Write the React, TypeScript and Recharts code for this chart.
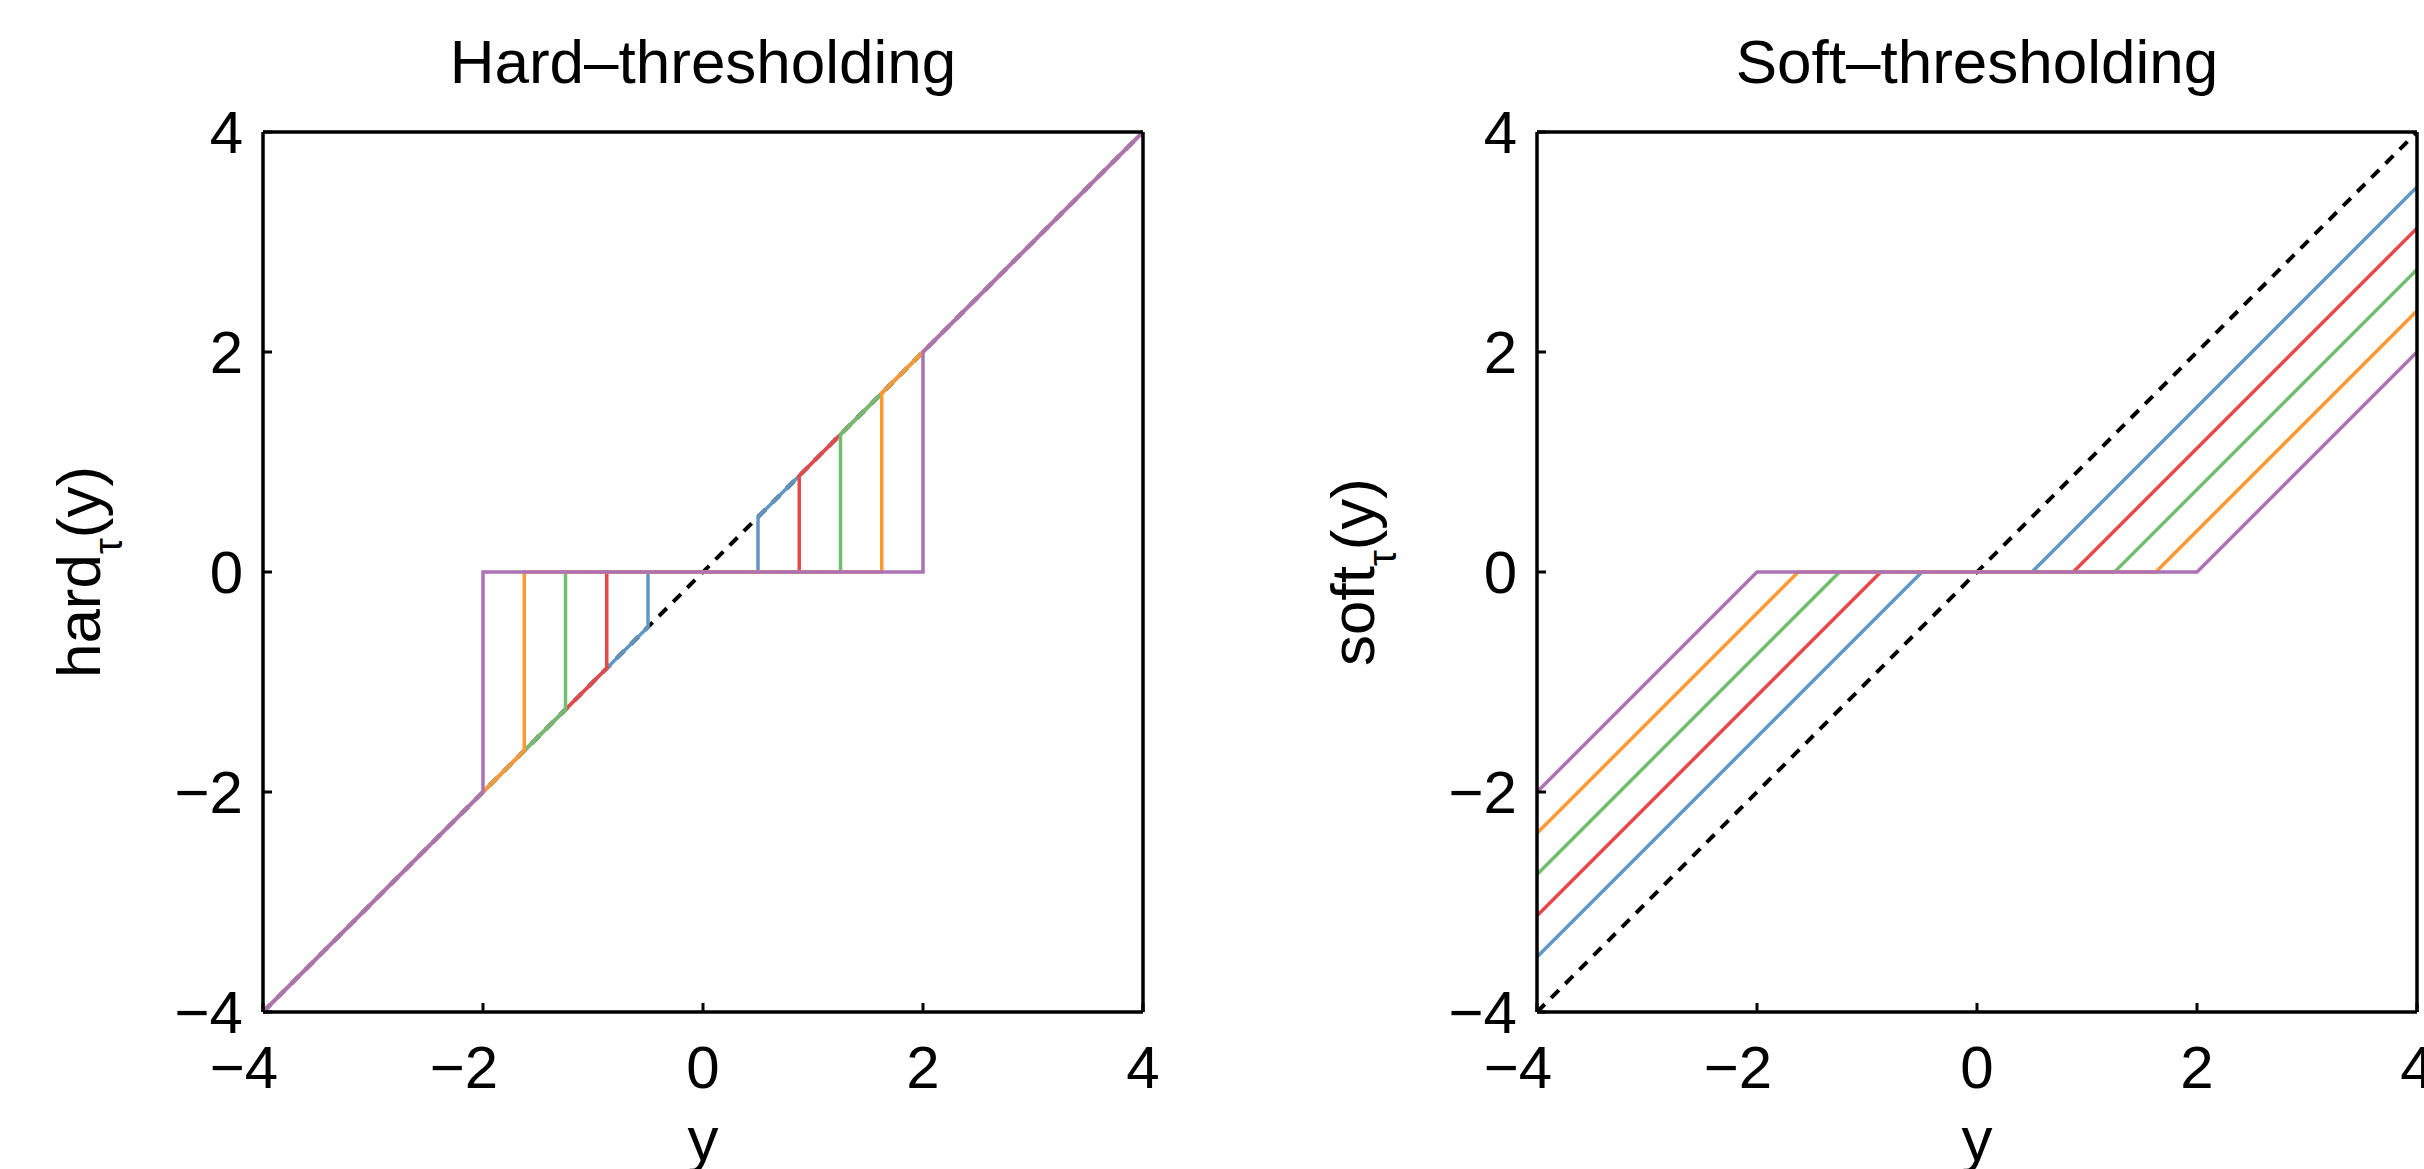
import { LineChart, Line, XAxis, YAxis, Label } from 'recharts'

type Pt = [number, number]

// shared axis setup (both panels run -4..4 on both axes)
const AXIS_DOMAIN: [number, number] = [-4, 4]
const AXIS_TICKS = [-4, -2, 0, 2, 4]

// thresholds, in plot order: blue, red, green, orange, purple
const SERIES_COLORS = ['#5f98c6', '#e94849', '#71bf6e', '#ff9933', '#ad71b5']

const IDENTITY: Pt[] = [[-4, -4], [4, 4]]

const HARD_BLUE: Pt[] = [[-4, -4], [-0.5, -0.5], [-0.5, 0], [0.5, 0], [0.5, 0.5], [4, 4]]
const HARD_RED: Pt[] = [[-4, -4], [-0.875, -0.875], [-0.875, 0], [0.875, 0], [0.875, 0.875], [4, 4]]
const HARD_GREEN: Pt[] = [[-4, -4], [-1.25, -1.25], [-1.25, 0], [1.25, 0], [1.25, 1.25], [4, 4]]
const HARD_ORANGE: Pt[] = [[-4, -4], [-1.625, -1.625], [-1.625, 0], [1.625, 0], [1.625, 1.625], [4, 4]]
const HARD_PURPLE: Pt[] = [[-4, -4], [-2, -2], [-2, 0], [2, 0], [2, 2], [4, 4]]

const SOFT_BLUE: Pt[] = [[-4, -3.5], [-0.5, 0], [0.5, 0], [4, 3.5]]
const SOFT_RED: Pt[] = [[-4, -3.125], [-0.875, 0], [0.875, 0], [4, 3.125]]
const SOFT_GREEN: Pt[] = [[-4, -2.75], [-1.25, 0], [1.25, 0], [4, 2.75]]
const SOFT_ORANGE: Pt[] = [[-4, -2.375], [-1.625, 0], [1.625, 0], [4, 2.375]]
const SOFT_PURPLE: Pt[] = [[-4, -2], [-2, 0], [2, 0], [4, 2]]

const FONT = '"Liberation Sans", Helvetica, Arial, sans-serif'
const CHART_W = 1212
const CHART_H = 1169

const toPoints = (pts: Pt[]) => pts.map(([x, y]) => ({ x, y }))

const fmt = (v: number) => (v < 0 ? `\u2212${Math.abs(v)}` : `${v}`)

function XTick(props: any) {
  const { x, y, payload } = props
  const v = payload.value as number
  // matlab centres the digit, the minus sign hangs off to the left
  return (
    <text x={x + (v < 0 ? -19 : 0)} y={y} dy='0.71em' textAnchor='middle' fontSize={60} fontFamily={FONT} fill='#000'>
      {fmt(v)}
    </text>
  )
}

function YTick(props: any) {
  const { x, y, payload } = props
  return (
    <text x={x} y={y} dy='0.355em' textAnchor='end' fontSize={60} fontFamily={FONT} fill='#000'>
      {fmt(payload.value)}
    </text>
  )
}

interface PanelProps {
  left: number
  marginLeft: number
  marginRight: number
  rightWidth: number
  title: string
  fnName: string
  series: Pt[][]
}

function Panel({ left, marginLeft, marginRight, rightWidth, title, fnName, series }: PanelProps) {
  const axisLine = { stroke: '#000', strokeWidth: 3.5 }
  const tickLine = { stroke: '#000', strokeWidth: 3 }

  return (
    <div style={{ position: 'absolute', left, top: 0 }}>
      <LineChart
        width={CHART_W}
        height={CHART_H}
        margin={{ top: 122, right: marginRight, bottom: 0, left: marginLeft }}>
        <XAxis
          dataKey='x'
          type='number'
          domain={AXIS_DOMAIN}
          ticks={AXIS_TICKS}
          interval={0}
          height={157}
          tickSize={-9}
          tickMargin={42}
          axisLine={axisLine}
          tickLine={tickLine}
          tick={(p: any) => <XTick {...p} />}>
          <Label
            content={(p: any) => {
              const vb = p.viewBox
              return (
                <text
                  x={vb.x + vb.width / 2}
                  y={vb.y + vb.height - 9}
                  textAnchor='middle'
                  fontSize={62}
                  fontFamily={FONT}
                  fill='#000'>
                  y
                </text>
              )
            }}
          />
        </XAxis>
        <XAxis
          xAxisId='top'
          orientation='top'
          dataKey='x'
          type='number'
          domain={AXIS_DOMAIN}
          ticks={AXIS_TICKS}
          interval={0}
          height={10}
          tickSize={-9}
          axisLine={axisLine}
          tickLine={tickLine}
          tick={false}>
          <Label
            content={(p: any) => {
              const vb = p.viewBox
              return (
                <text
                  x={vb.x + vb.width / 2}
                  y={vb.y - 39}
                  textAnchor='middle'
                  fontSize={62}
                  fontFamily={FONT}
                  fill='#000'>
                  {title}
                </text>
              )
            }}
          />
        </XAxis>
        <YAxis
          type='number'
          domain={AXIS_DOMAIN}
          ticks={AXIS_TICKS}
          interval={0}
          width={120}
          tickSize={-9}
          tickMargin={29}
          axisLine={axisLine}
          tickLine={tickLine}
          tick={(p: any) => <YTick {...p} />}>
          <Label
            content={(p: any) => {
              const vb = p.viewBox
              const cx = vb.x - 43
              const cy = vb.y + vb.height / 2
              return (
                <text
                  x={cx}
                  y={cy}
                  transform={`rotate(-90 ${cx} ${cy})`}
                  textAnchor='middle'
                  fontSize={62}
                  fontFamily={FONT}
                  fill='#000'>
                  {fnName}
                  <tspan fontSize={40} dy={22}>
                    τ
                  </tspan>
                  <tspan dy={-22}>(y)</tspan>
                </text>
              )
            }}
          />
        </YAxis>
        <YAxis
          yAxisId='right'
          orientation='right'
          type='number'
          domain={AXIS_DOMAIN}
          ticks={AXIS_TICKS}
          interval={0}
          width={rightWidth}
          tickSize={-9}
          axisLine={axisLine}
          tickLine={tickLine}
          tick={false}
        />

        {/* y = x reference, drawn first so the coloured curves sit on top */}
        <Line
          data={toPoints(IDENTITY)}
          dataKey='y'
          type='linear'
          stroke='#000'
          strokeWidth={4}
          strokeDasharray='11 9'
          dot={false}
          activeDot={false}
          isAnimationActive={false}
        />

        {series.map((pts, i) => (
          <Line
            key={i}
            data={toPoints(pts)}
            dataKey='y'
            type='linear'
            stroke={SERIES_COLORS[i]}
            strokeWidth={3.5}
            dot={false}
            activeDot={false}
            isAnimationActive={false}
          />
        ))}
      </LineChart>
    </div>
  )
}

export default function App() {
  return (
    <div
      style={{
        position: 'absolute',
        left: 0,
        top: 0,
        width: 2424,
        height: 1169,
        overflow: 'hidden',
        background: '#fff',
        fontFamily: FONT,
      }}>
      <Panel
        left={0}
        marginLeft={143}
        marginRight={59}
        rightWidth={10}
        title='Hard–thresholding'
        fnName='hard'
        series={[HARD_BLUE, HARD_RED, HARD_GREEN, HARD_ORANGE, HARD_PURPLE]}
      />
      <Panel
        left={1212}
        marginLeft={205}
        marginRight={3}
        rightWidth={4}
        title='Soft–thresholding'
        fnName='soft'
        series={[SOFT_BLUE, SOFT_RED, SOFT_GREEN, SOFT_ORANGE, SOFT_PURPLE]}
      />
    </div>
  )
}
